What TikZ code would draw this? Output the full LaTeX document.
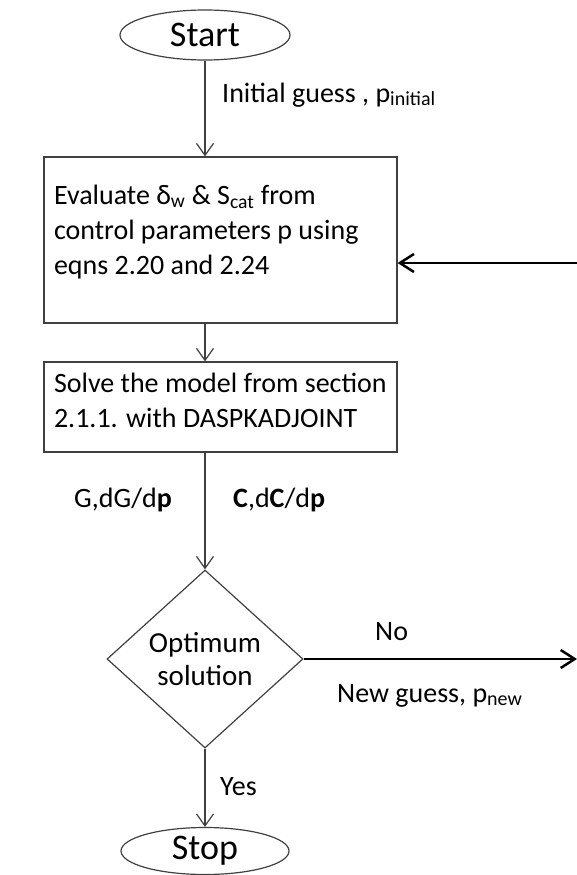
\documentclass[tikz,border=0pt]{standalone}
\usepackage{fontspec}
\setmainfont{Carlito}
\usetikzlibrary{shapes.geometric, arrows.meta}
\definecolor{linegray}{RGB}{64, 64, 64}
\newcommand{\lowsub}[1]{\raisebox{-3pt}{\fontsize{20}{20}\selectfont #1}}
\newcommand{\indline}{\hspace*{10pt}}

\begin{document}
\begin{tikzpicture}[x=1pt, y=-1pt,
    every node/.style = {font=\fontsize{28}{35}\selectfont},
    box/.style = {
        rectangle, draw=linegray, line width=1.2pt,
        minimum width=353pt, text width=353pt,
        inner xsep=0pt, align=flush left
    },
    terminal/.style = {ellipse, draw=linegray, line width=1.2pt,
                       minimum width=170pt, minimum height=50pt, inner sep=0pt,
                       font=\fontsize{36}{40}\selectfont},
    decision/.style = {diamond, aspect=1.1, draw=linegray, line width=1.2pt,
                       minimum width=196pt, minimum height=178pt, inner sep=0pt,
                       align=center, font=\fontsize{29}{33}\selectfont},
    lbl/.style      = {anchor=base west, inner sep=0pt},
    arrow/.style    = {-{Straight Barb[length=12pt, width=17pt]}, line width=1.2pt, linegray},
    looparrow/.style= {-{Straight Barb[length=14pt, width=18pt]}, line width=2.5pt, black},
]
\useasboundingbox (0,0) rectangle (577,875);

% --- Flowchart nodes ---
\node[terminal] (start) at (205,35) {Start};
\node[box, minimum height=166pt] (eval) at (220.5,240)
    {\indline Evaluate δ\textsubscript{w} \& S\textsubscript{cat} from\\
     \indline control parameters p using\\
     \indline eqns 2.20 and 2.24\rule[-21pt]{0pt}{21pt}};
\node[box, minimum height=90pt] (solve) at (220.5,407)
    {\indline Solve the model from section\\
     \indline 2.1.1. with DASPKADJOINT\rule[-14pt]{0pt}{14pt}};
\node[decision] (optim) at (205,659) {Optimum\\solution};
\node[terminal, minimum width=168pt, minimum height=47pt] (stop) at (205,851) {Stop};

% --- Free ends at the right border ---
\coordinate (noend)  at (577,659);
\coordinate (backin) at (577,263);

% --- Connectors ---
\draw[arrow] (start.south) -- (start.south |- eval.north);
\draw[arrow] (eval.south -| start) -- (solve.north -| start);
\draw[arrow] (solve.south -| optim) -- (optim.north);
\draw[arrow] (optim.south) -- (stop.north);
\draw[looparrow] (optim.east) -- (noend);
\draw[looparrow] (backin) -- (eval.east |- backin);

% --- Labels ---
\node[lbl] (initlbl) at (222,102) {Initial guess , p\lowsub{initial}};
\node[lbl, anchor=base east] (glbl) at (172,507) {G,dG/d\textbf{p}};
\node[lbl] (clbl) at (233,507) {\textbf{C},d\textbf{C}/d\textbf{p}};
\node[lbl] (nolbl) at (375,640) {No};
\node[lbl] (newlbl) at (337,702) {New guess, p\lowsub{new}};
\node[lbl] (yeslbl) at (220,795) {Yes};

\end{tikzpicture}
\end{document}
